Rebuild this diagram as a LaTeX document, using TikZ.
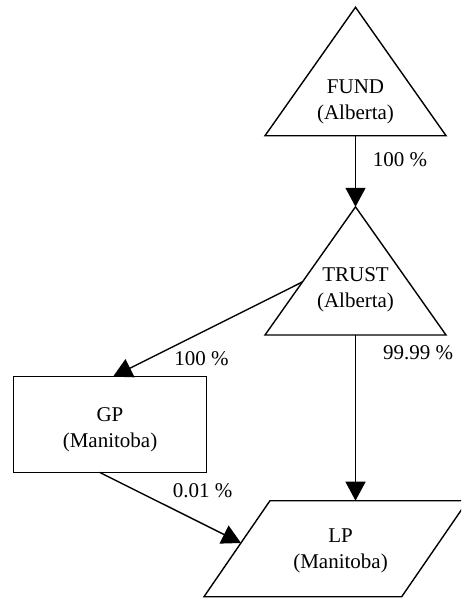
\documentclass[tikz,border=0pt]{standalone}
\usepackage{fontspec}
\setmainfont{Liberation Serif}
\usetikzlibrary{arrows.meta}
\tikzset{
  shapeline/.style={line width=1.4pt, line join=miter},
  edge/.style={line width=1.4pt, -{Triangle[length=19pt,width=20pt]}},
  nodetext/.style={align=center, inner sep=0pt, font=\fontsize{21}{26}\selectfont},
  pct/.style={inner sep=0pt, anchor=base, font=\fontsize{21}{26}\selectfont}
}
\begin{document}
\begin{tikzpicture}[x=1pt,y=-1pt]
\useasboundingbox (0,0) rectangle (461,599);
\begin{scope}
\clip (0,0) rectangle (461,599);
% FUND triangle
\coordinate (fundA) at (355.5,7.3);
\coordinate (fundL) at (265,135.7);
\coordinate (fundR) at (446,135.7);
\coordinate (fundS) at (355.5,135.7);
\draw[shapeline] (fundA) -- (fundL) -- (fundR) -- cycle;
\node[nodetext] (fund) at (355.5,102.3) {FUND\\(Alberta)};
% TRUST triangle
\coordinate (trustA) at (355.5,206.8);
\coordinate (trustL) at (265,335);
\coordinate (trustR) at (446,335);
\coordinate (trustS) at (355.5,335);
\coordinate (trustW) at (302.3,282);
\draw[shapeline] (trustA) -- (trustL) -- (trustR) -- cycle;
\node[nodetext] (trust) at (355.5,290) {TRUST\\(Alberta)};
% GP rectangle
\coordinate (gpNW) at (13.5,376.7);
\coordinate (gpSE) at (206.7,472.3);
\coordinate (gpN) at (113,376.7);
\coordinate (gpS) at (99.5,472.3);
\draw[shapeline] (gpNW) rectangle (gpSE);
\node[nodetext] (gp) at (110,430) {GP\\(Manitoba)};
% LP parallelogram
\coordinate (lpTL) at (270,500.7);
\coordinate (lpTR) at (467.7,500.7);
\coordinate (lpBR) at (401.7,596.7);
\coordinate (lpBL) at (204,596.7);
\coordinate (lpN) at (355.5,500.7);
\coordinate (lpW) at (241,543);
\draw[shapeline] (lpTL) -- (lpTR) -- (lpBR) -- (lpBL) -- cycle;
\node[nodetext] (lp) at (340.5,551) {LP\\(Manitoba)};
\end{scope}
% connectors
\draw[edge] (fundS) -- (trustA);
\draw[edge] (trustW) -- (gpN);
\draw[edge] (trustS) -- (lpN);
\draw[edge] (gpS) -- (lpW);
% labels
\node[pct] (l1) at (400,166.7) {100 \%};
\node[pct] (l2) at (201.5,365) {100 \%};
\node[pct] (l3) at (418,359) {99.99 \%};
\node[pct] (l4) at (202.5,497) {0.01 \%};
\end{tikzpicture}
\end{document}
